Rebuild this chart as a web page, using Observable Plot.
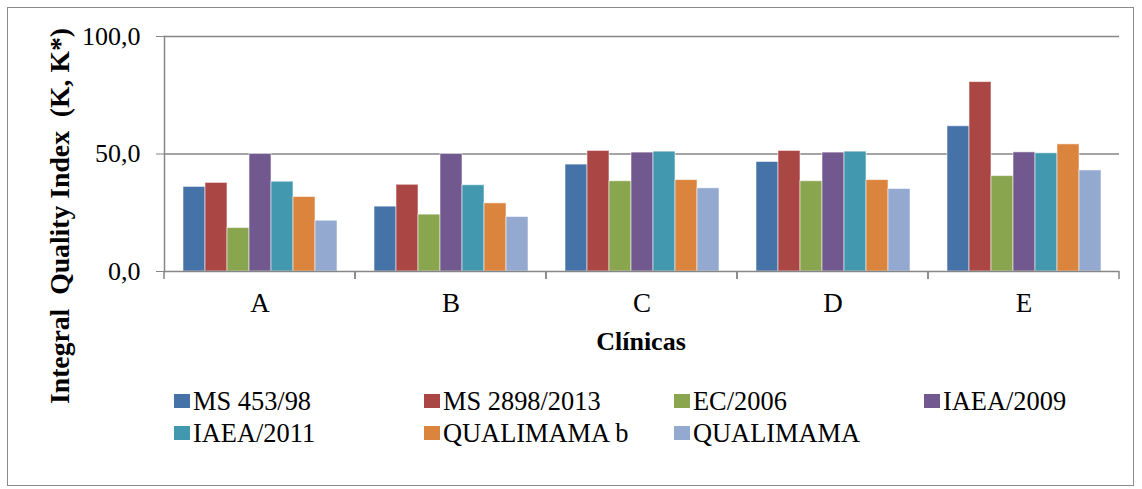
<!DOCTYPE html>
<html>
<head>
<meta charset="utf-8">
<script src="https://cdn.jsdelivr.net/npm/d3@7"></script>
<script src="https://cdn.jsdelivr.net/npm/@observablehq/plot@0.6"></script>
<style>
  html, body { margin: 0; padding: 0; background: #fff; }
  #wrap { position: relative; width: 1142px; height: 489px; font-family: 'Liberation Serif', 'Times New Roman', serif; }
  #wrap * { font-family: 'Liberation Serif', 'Times New Roman', serif; }
  #border { position: absolute; left: 7px; top: 7px; width: 1127px; height: 479px; border: 1px solid #8a8a8a; box-sizing: border-box; }
  #chart { position: absolute; left: 0; top: 0; }
  #chart svg text { font-family: 'Liberation Serif', 'Times New Roman', serif; }
  .ytitle { position: absolute; left: 60px; top: 216px; transform: translate(-50%, -50%) rotate(-90deg); white-space: pre; font-weight: bold; font-size: 27.7px; color: #000; }
  .xtitle { position: absolute; left: 641px; top: 342px; transform: translate(-50%, -50%); font-weight: bold; font-size: 26px; color: #000; white-space: pre; }
  #legend { position: absolute; left: 174px; top: 385px; display: grid; grid-template-columns: repeat(4, 250px); grid-auto-rows: 32px; font-size: 26.4px; color: #000; }
  .item { display: flex; align-items: center; white-space: pre; }
  .sw { width: 16px; height: 14px; margin-right: 3px; flex: none; }
</style>
</head>
<body>
<div id="wrap">
  <div id="border"></div>
  <div id="chart"></div>
  <div class="ytitle">Integral  Quality Index  (K, K*)</div>
  <div class="xtitle">Clínicas</div>
  <div id="legend"></div>
</div>
<script>
const clinics = ["A", "B", "C", "D", "E"];
const series = ["MS 453/98", "MS 2898/2013", "EC/2006", "IAEA/2009", "IAEA/2011", "QUALIMAMA b", "QUALIMAMA"];
const colors = ["#4572A7", "#AA4643", "#89A54E", "#71588F", "#4198AF", "#DB843D", "#93A9CF"];
const ms453 =     [36.0, 27.6, 45.5, 46.6, 61.8];
const ms2898 =    [37.7, 36.9, 51.3, 51.3, 80.6];
const ec2006 =    [18.5, 24.2, 38.4, 38.4, 40.6];
const iaea2009 =  [50.0, 50.0, 50.6, 50.6, 50.7];
const iaea2011 =  [38.2, 36.7, 51.0, 51.0, 50.3];
const qualimamaB =[31.7, 29.0, 38.9, 38.9, 54.1];
const qualimama = [21.6, 23.2, 35.4, 35.1, 43.0];
const yTicks = [0, 50, 100];

const valuesBySeries = [ms453, ms2898, ec2006, iaea2009, iaea2011, qualimamaB, qualimama];
const rows = [];
clinics.forEach((c, i) => {
  series.forEach((s, j) => rows.push({clinic: c, series: s, value: valuesBySeries[j][i]}));
});

const gray = "#868686";
const serif = "'Liberation Serif', 'Times New Roman', serif";

// short tick marks at the category boundaries (drawn in each facet at its edges)
function boundaryTicks(index, scales, values, dimensions) {
  const {marginLeft, marginRight, marginBottom, width, height} = dimensions;
  const g = d3.create("svg:g").attr("stroke", gray).attr("stroke-width", 1.5);
  const y0 = height - marginBottom;
  for (const x of [marginLeft, width - marginRight]) {
    g.append("line").attr("x1", x).attr("x2", x).attr("y1", y0).attr("y2", y0 + 8);
  }
  return g.node();
}

const plot = Plot.plot({
  width: 1142,
  height: 360,
  marginLeft: 163,
  marginRight: 22,
  marginTop: 36,
  marginBottom: 89,
  style: {fontFamily: serif, fontSize: "26px", background: "transparent", color: "#000"},
  fx: {domain: clinics, padding: 0},
  x: {domain: series, axis: null, paddingInner: 0, paddingOuter: 0.74},
  y: {domain: [0, 100]},
  color: {domain: series, range: colors},
  marks: [
    Plot.ruleY(yTicks.filter(d => d > 0), {stroke: gray, strokeWidth: 1.5}),
    Plot.barY(rows, {fx: "clinic", x: "series", y: "value", fill: "series", stroke: "#ffffff", strokeOpacity: 0.55, strokeWidth: 1}),
    Plot.ruleY([0], {stroke: gray, strokeWidth: 1.5}),
    Plot.frame({anchor: "left", facetAnchor: "left", stroke: gray, strokeWidth: 1.5}),
    boundaryTicks,
    Plot.axisY({ticks: yTicks, tickFormat: d => d.toFixed(1).replace(".", ","), tickSize: 8, tickPadding: 16, stroke: gray, fill: "#000", fontSize: 26, fontFamily: serif, label: null}),
    Plot.axisFx({anchor: "bottom", tickSize: 0, tickPadding: 21, fontSize: 27, fontFamily: serif, fill: "#000", label: null})
  ]
});
document.getElementById("chart").appendChild(plot);

const legend = d3.select("#legend");
series.forEach((s, j) => {
  const it = legend.append("div").attr("class", "item");
  it.append("div").attr("class", "sw").style("background", colors[j]);
  it.append("span").text(s);
});
</script>
</body>
</html>
